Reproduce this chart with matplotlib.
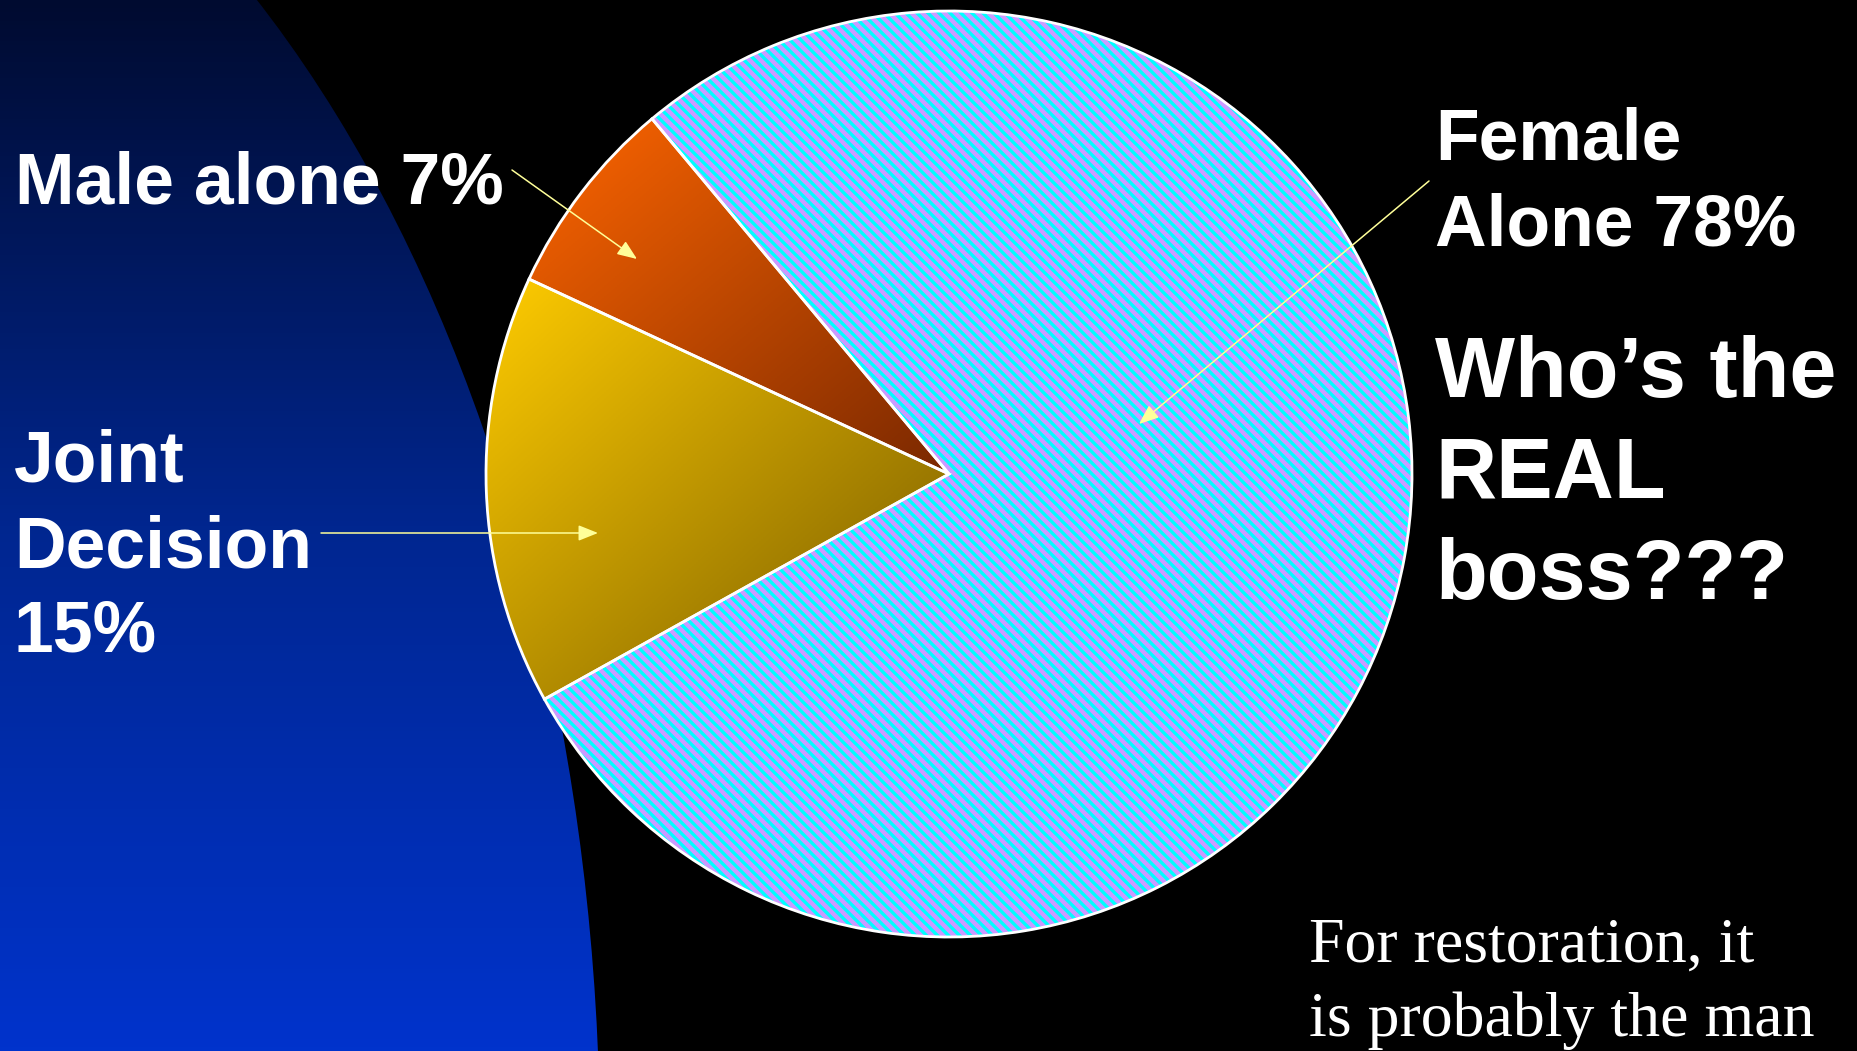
import numpy as np
import matplotlib.pyplot as plt
from matplotlib.patches import Ellipse, Wedge
from matplotlib.collections import LineCollection
from matplotlib.colors import LinearSegmentedColormap

# data
slice_names = ['Female Alone', 'Male alone', 'Joint Decision']
shares = [78, 7, 15]
face_light = ['#CC99FF', '#FF6600', '#FFCC00']
face_dark = ['#CC99FF', '#7A2800', '#755900']

W, H = 1857, 1051
fig = plt.figure(figsize=(W / 100, H / 100), dpi=100, facecolor='black')
ax = fig.add_axes([0, 0, 1, 1])
ax.set_facecolor('black')

# blue backdrop on the left (pixel coords, y up)
blob = Ellipse((-300, -99), 1800, 2928, facecolor='none', edgecolor='none')
ax.add_patch(blob)
bg_cmap = LinearSegmentedColormap.from_list('bg', ['#0033CC', '#00268F', '#000B30'])
grad = np.linspace(0, 1, 256).reshape(-1, 1)
bg_img = ax.imshow(grad, extent=[0, 700, 0, H], origin='lower', cmap=bg_cmap,
                   aspect='auto', zorder=0)
bg_img.set_clip_path(blob)

# pie
cx, cy, R = 949, H - 474, 463
wedges, _ = ax.pie(shares, center=(cx, cy), radius=R, startangle=209.1,
                   counterclock=True,
                   wedgeprops=dict(edgecolor='white', linewidth=2.0))

for i, w in enumerate(wedges):
    w.set_facecolor('none')
    w.set_zorder(4)
    if i == 0:
        base = Wedge(w.center, w.r, w.theta1, w.theta2, facecolor=face_light[0],
                     linewidth=0, zorder=2)
        ax.add_patch(base)
        # diagonal cyan stripes
        cs = np.arange(cx - R + cy - R - 20, cx + R + cy + R + 20, 11)
        segs = [[(c - (cy + R), cy + R), (c - (cy - R), cy - R)] for c in cs]
        lc = LineCollection(segs, colors='#00FFFF', linewidths=2.4, zorder=3)
        ax.add_collection(lc)
        lc.set_clip_path(w)
    else:
        ext = w.get_path().get_extents()
        xs = np.linspace(0, 1, 200)
        ys = np.linspace(0, 1, 200)
        gx, gy = np.meshgrid(xs, ys)
        t = (gx + (1 - gy)) / 2
        cmap = LinearSegmentedColormap.from_list('g%d' % i, [face_light[i], face_dark[i]])
        im = ax.imshow(t, extent=[ext.x0, ext.x1, ext.y0, ext.y1], origin='lower',
                       cmap=cmap, vmin=0, vmax=1, aspect='auto', zorder=2)
        im.set_clip_path(w)

ax.set_aspect('auto')
ax.set_xlim(0, W)
ax.set_ylim(0, H)
ax.axis('off')

# arrows (tail, tip) in image pixels
arrows = [((1429, 181), (1139, 424)),
          ((512, 170), (637, 259)),
          ((321, 533), (598, 533))]
for (x0, y0), (x1, y1) in arrows:
    ax.annotate('', xy=(x1, H - y1), xytext=(x0, H - y0),
                arrowprops=dict(arrowstyle='-|>,head_length=1.0,head_width=0.4',
                                mutation_scale=12, color='#FFFF99', lw=1.1,
                                shrinkA=0, shrinkB=0), zorder=6)

bold = dict(color='white', fontfamily='Liberation Sans', fontweight='bold',
            ha='left', va='baseline', zorder=7)


def lines(x, y0, step, rows, size, **kw):
    for k, row in enumerate(rows):
        ax.text(x, H - (y0 + k * step), row, fontsize=size, **kw)


lines(15, 203, 85, ['Male alone 7%'], 51.5, **bold)
lines(14, 482, 85, ['Joint', 'Decision', '15%'], 51.5, **bold)
lines(1435, 159, 86, ['Female', 'Alone 78%'], 51.5, **bold)
lines(1435, 397, 101, ['Who\u2019s the', 'REAL', 'boss???'], 61, **bold)
lines(1309, 962, 74, ['For restoration, it', 'is probably the man'], 46,
      color='white', fontfamily='Liberation Serif', ha='left', va='baseline', zorder=7)

fig.savefig('out.png', dpi=100, facecolor='black')
